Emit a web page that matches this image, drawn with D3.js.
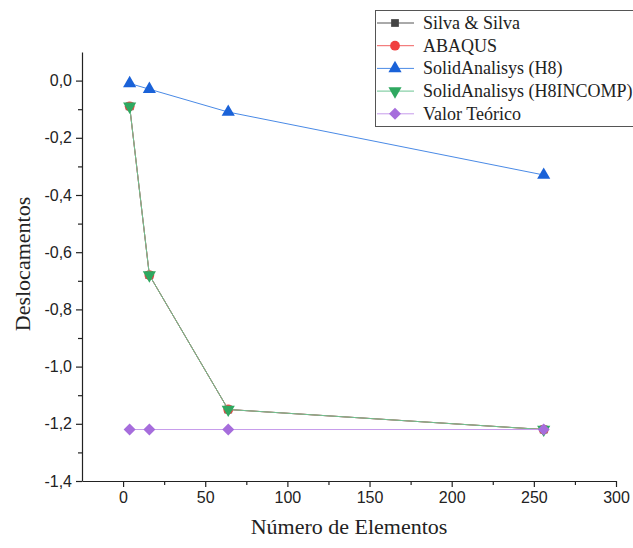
<!DOCTYPE html>
<html>
<head>
<meta charset="utf-8">
<script src="https://cdn.jsdelivr.net/npm/d3@7"></script>
<style>
  body { margin: 0; background: #fff; }
  #viz { width: 633px; height: 548px; }
</style>
</head>
<body>
<div id="viz"></div>
<script>
// number of elements in each mesh
var elementos = [4, 16, 64, 256];

// displacements per method
var silva = [-0.09, -0.68, -1.15, -1.22];
var abaqus = [-0.09, -0.68, -1.15, -1.22];
var h8 = [-0.01, -0.03, -0.11, -0.33];
var h8incomp = [-0.09, -0.68, -1.15, -1.22];
var teorico = [-1.22, -1.22, -1.22, -1.22];

var xTicks = [0, 50, 100, 150, 200, 250, 300];
var yTicks = [0, -0.2, -0.4, -0.6, -0.8, -1.0, -1.2, -1.4];

var series = [
    { name: 'Silva & Silva', values: silva, color: '#444444', line: '#555555', symbol: d3.symbolSquare, size: 60, rot: 0 },
    { name: 'ABAQUS', values: abaqus, color: '#f04040', line: '#f06060', symbol: d3.symbolCircle, size: 75, rot: 0 },
    { name: 'SolidAnalisys (H8)', values: h8, color: '#1a62d8', line: '#4a8ae6', symbol: d3.symbolTriangle, size: 75, rot: 0 },
    { name: 'SolidAnalisys (H8INCOMP)', values: h8incomp, color: '#2fa860', line: '#6cc493', symbol: d3.symbolTriangle, size: 75, rot: 180 },
    { name: 'Valor Teórico', values: teorico, color: '#a66ddc', line: '#c79ceb', symbol: d3.symbolSquare, size: 72, rot: 45 }
];

var width = 633, height = 548;
var svg = d3.select('#viz').append('svg')
    .attr('width', width)
    .attr('height', height);

var xScale = d3.scaleLinear().domain([-25, 300]).range([82, 616]);
var yScale = d3.scaleLinear().domain([-1.4, 0.1]).range([481, 52]);

var fmt = function (d) { return d3.format('.1f')(d).replace('.', ',').replace('−', '-'); };

// y axis with minor ticks
var yMinor = d3.range(-1.3, 0.1, 0.2);
svg.append('g')
    .attr('transform', 'translate(82,0)')
    .call(d3.axisLeft(yScale).tickValues(yMinor).tickSize(4).tickFormat(''))
    .call(function (g) { g.select('.domain').remove(); });
svg.append('g')
    .attr('transform', 'translate(82,0)')
    .call(d3.axisLeft(yScale).tickValues(yTicks).tickSize(6).tickSizeOuter(0).tickPadding(4).tickFormat(fmt));

// x axis with minor ticks
var xMinor = d3.range(25, 300, 50);
svg.append('g')
    .attr('transform', 'translate(0,481)')
    .call(d3.axisBottom(xScale).tickValues(xMinor).tickSize(4).tickFormat(''))
    .call(function (g) { g.select('.domain').remove(); });
svg.append('g')
    .attr('transform', 'translate(0,481)')
    .call(d3.axisBottom(xScale).tickValues(xTicks).tickSize(6).tickSizeOuter(0).tickPadding(5));

svg.selectAll('.tick text')
    .attr('font-family', 'Liberation Sans, Arial, sans-serif')
    .attr('font-size', 16)
    .attr('fill', '#222');
svg.selectAll('.domain, .tick line').attr('stroke', '#222').attr('stroke-width', 1.2);

// axis titles
svg.append('text')
    .attr('x', 349).attr('y', 534)
    .attr('text-anchor', 'middle')
    .attr('font-family', 'Liberation Serif, Times New Roman, serif')
    .attr('font-size', 22)
    .attr('fill', '#222')
    .text('Número de Elementos');

svg.append('text')
    .attr('transform', 'translate(30,264) rotate(-90)')
    .attr('text-anchor', 'middle')
    .attr('font-family', 'Liberation Serif, Times New Roman, serif')
    .attr('font-size', 22)
    .attr('fill', '#222')
    .text('Deslocamentos');

var line = d3.line()
    .x(function (d, i) { return xScale(elementos[i]); })
    .y(function (d) { return yScale(d); });

series.forEach(function (s) {
    var g = svg.append('g');
    g.append('path')
        .datum(s.values)
        .attr('d', line)
        .attr('fill', 'none')
        .attr('stroke', s.line)
        .attr('stroke-width', 1);
    g.selectAll('path.pt')
        .data(s.values)
        .enter().append('path')
        .attr('class', 'pt')
        .attr('d', d3.symbol().type(s.symbol).size(s.size))
        .attr('transform', function (d, i) {
            return 'translate(' + xScale(elementos[i]) + ',' + yScale(d) + ') rotate(' + s.rot + ')';
        })
        .attr('fill', s.color);
});

// legend
var legend = svg.append('g');
legend.append('rect')
    .attr('x', 375.5).attr('y', 10.5)
    .attr('width', 270).attr('height', 116)
    .attr('fill', '#fff')
    .attr('stroke', '#555')
    .attr('stroke-width', 1);

series.forEach(function (s, i) {
    var y = 23 + i * 22.7;
    legend.append('line')
        .attr('x1', 377).attr('x2', 414)
        .attr('y1', y).attr('y2', y)
        .attr('stroke', s.line)
        .attr('stroke-width', 1);
    legend.append('path')
        .attr('d', d3.symbol().type(s.symbol).size(s.size))
        .attr('transform', 'translate(395,' + y + ') rotate(' + s.rot + ')')
        .attr('fill', s.color);
    legend.append('text')
        .attr('x', 423).attr('y', y + 6)
        .attr('font-family', 'Liberation Serif, Times New Roman, serif')
        .attr('font-size', 18)
        .attr('fill', '#222')
        .text(s.name);
});
</script>
</body>
</html>
